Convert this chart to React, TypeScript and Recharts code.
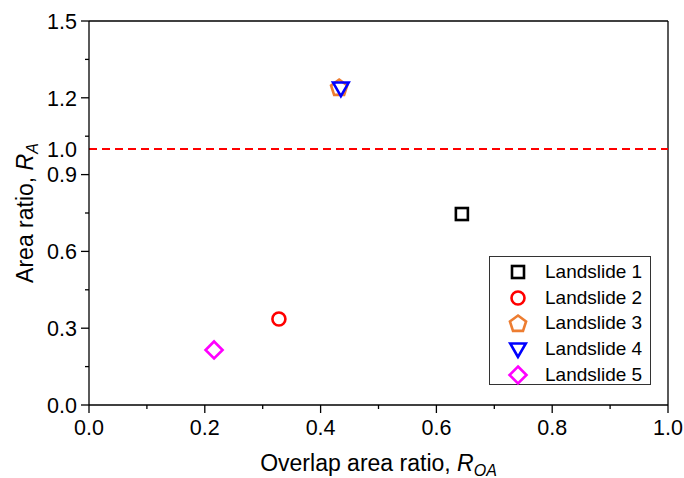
import React from 'react';
import { ScatterChart, Scatter, XAxis, YAxis, ReferenceLine, Legend } from 'recharts';

const seriesNames = ['Landslide 1', 'Landslide 2', 'Landslide 3', 'Landslide 4', 'Landslide 5'];
const roaValues = [0.644, 0.328, 0.432, 0.435, 0.216];
const raValues = [0.746, 0.336, 1.242, 1.238, 0.215];
const colors = ['#000000', '#ff0000', '#ED7D31', '#0000ff', '#ff00ff'];
const shapes = ['square', 'circle', 'pentagon', 'triangle', 'diamond'];

const xTicks = [0, 0.1, 0.2, 0.3, 0.4, 0.5, 0.6, 0.7, 0.8, 0.9, 1.0];
const xLabeled = [0, 0.2, 0.4, 0.6, 0.8, 1.0];
const yTicks = [0, 0.15, 0.3, 0.45, 0.6, 0.75, 0.9, 1.0, 1.05, 1.2, 1.35, 1.5];
const yMajor = [0, 0.3, 0.6, 0.9, 1.2, 1.5];
const yLabeled = [0, 0.3, 0.6, 0.9, 1.0, 1.2, 1.5];
const threshold = 1.0;

const FONT = '"Liberation Sans", Arial, sans-serif';
const TICK_FS = 21.5;
const TITLE_FS = 23;

function Marker({ cx, cy, shape, color }: { cx: number; cy: number; shape: string; color: string }) {
  const sw = 2.6;
  if (shape === 'square') {
    return <rect x={cx - 6} y={cy - 6} width={12} height={12} fill="none" stroke={color} strokeWidth={sw} />;
  }
  if (shape === 'circle') {
    return <circle cx={cx} cy={cy} r={6.5} fill="none" stroke={color} strokeWidth={sw} />;
  }
  if (shape === 'pentagon') {
    const r = 8.5;
    const pts = [0, 1, 2, 3, 4]
      .map((i) => {
        const a = -Math.PI / 2 + (i * 2 * Math.PI) / 5;
        return `${cx + r * Math.cos(a)},${cy + 1 + r * Math.sin(a)}`;
      })
      .join(' ');
    return <polygon points={pts} fill="none" stroke={color} strokeWidth={sw} strokeLinejoin="miter" />;
  }
  if (shape === 'triangle') {
    const r = 9;
    const pts = [Math.PI / 2, Math.PI / 2 + (2 * Math.PI) / 3, Math.PI / 2 + (4 * Math.PI) / 3]
      .map((a) => `${cx + r * Math.cos(a)},${cy - 1 + r * Math.sin(a)}`)
      .join(' ');
    return <polygon points={pts} fill="none" stroke={color} strokeWidth={sw} />;
  }
  const d = 8.5;
  return (
    <polygon
      points={`${cx},${cy - d} ${cx + d},${cy} ${cx},${cy + d} ${cx - d},${cy}`}
      fill="none"
      stroke={color}
      strokeWidth={sw}
    />
  );
}

const YTick = (props: any) => {
  const { x, y, payload } = props;
  const v = payload.value;
  const isMajor = yMajor.some((m) => Math.abs(m - v) < 1e-9);
  const isLabeled = yLabeled.some((m) => Math.abs(m - v) < 1e-9);
  const len = Math.abs(v - threshold) < 1e-9 ? 0 : isMajor ? 8 : 4;
  return (
    <g>
      {len > 0 && <line x1={x} x2={x - len} y1={y} y2={y} stroke="#000" strokeWidth={1.3} />}
      {isLabeled && (
        <text x={x - 12} y={y} dy="0.36em" textAnchor="end" fontSize={TICK_FS} fontFamily={FONT} fill="#000">
          {Number(v).toFixed(1)}
        </text>
      )}
    </g>
  );
};

const XTick = (props: any) => {
  const { x, y, payload } = props;
  const v = payload.value;
  const isLabeled = xLabeled.some((m) => Math.abs(m - v) < 1e-9);
  const len = isLabeled ? 8 : 4;
  return (
    <g>
      <line x1={x} x2={x} y1={y} y2={y + len} stroke="#000" strokeWidth={1.3} />
      {isLabeled && (
        <text x={x} y={y + 30} textAnchor="middle" fontSize={TICK_FS} fontFamily={FONT} fill="#000">
          {Number(v).toFixed(1)}
        </text>
      )}
    </g>
  );
};

const YTitle = (props: any) => {
  const vb = props.viewBox || {};
  const cx = (vb.x ?? 0) + 33;
  const cy = (vb.y ?? 0) + (vb.height ?? 0) / 2;
  return (
    <text
      x={cx}
      y={cy}
      transform={`rotate(-90, ${cx}, ${cy})`}
      textAnchor="middle"
      fontSize={TITLE_FS}
      fontFamily={FONT}
      fill="#000"
    >
      <tspan>Area ratio, </tspan>
      <tspan fontStyle="italic">R</tspan>
      <tspan fontStyle="italic" fontSize={16} dy={5}>
        A
      </tspan>
    </text>
  );
};

const XTitle = (props: any) => {
  const vb = props.viewBox || {};
  const cx = (vb.x ?? 0) + (vb.width ?? 0) / 2;
  const cy = (vb.y ?? 0) + 66;
  return (
    <text x={cx} y={cy} textAnchor="middle" fontSize={TITLE_FS} fontFamily={FONT} fill="#000">
      <tspan>Overlap area ratio, </tspan>
      <tspan fontStyle="italic">R</tspan>
      <tspan fontStyle="italic" fontSize={16} dy={5}>
        OA
      </tspan>
    </text>
  );
};

const LegendBox = () => (
  <div
    style={{
      width: 162,
      height: 129,
      border: '1px solid #333',
      background: '#fff',
      boxSizing: 'border-box',
      paddingTop: 2,
      fontFamily: FONT,
    }}
  >
    {seriesNames.map((name, i) => (
      <div key={name} style={{ display: 'flex', alignItems: 'center', height: 25.7 }}>
        <svg width={22} height={22} style={{ marginLeft: 17 }}>
          <Marker cx={11} cy={11} shape={shapes[i]} color={colors[i]} />
        </svg>
        <span style={{ marginLeft: 16, fontSize: 19, color: '#000', lineHeight: '20px' }}>{name}</span>
      </div>
    ))}
  </div>
);

export default function App() {
  return (
    <div style={{ position: 'absolute', left: 0, top: 0, width: 684, height: 478, background: '#fff' }}>
      <ScatterChart width={684} height={478} margin={{ top: 21, right: 16, bottom: 0, left: 0 }}>
        <XAxis
          type="number"
          dataKey="x"
          domain={[0, 1]}
          ticks={xTicks}
          interval={0}
          tickSize={0}
          tickMargin={0}
          tick={<XTick />}
          height={73}
          axisLine={{ stroke: '#000', strokeWidth: 1.3 }}
          label={<XTitle />}
        />
        <YAxis
          type="number"
          dataKey="y"
          domain={[0, 1.5]}
          ticks={yTicks}
          interval={0}
          tickSize={0}
          tickMargin={0}
          tick={<YTick />}
          width={89}
          axisLine={{ stroke: '#000', strokeWidth: 1.3 }}
          label={<YTitle />}
        />
        <ReferenceLine y={1.5} stroke="#000" strokeWidth={1.3} />
        <ReferenceLine x={1.0} stroke="#000" strokeWidth={1.3} />
        <ReferenceLine y={threshold} stroke="#ff0000" strokeWidth={2} strokeDasharray="8 5" />
        {seriesNames.map((name, i) => (
          <Scatter
            key={name}
            name={name}
            data={[{ x: roaValues[i], y: raValues[i] }]}
            isAnimationActive={false}
            shape={(p: any) => <Marker cx={p.cx} cy={p.cy} shape={shapes[i]} color={colors[i]} />}
          />
        ))}
        <Legend
          layout="vertical"
          align="center"
          verticalAlign="middle"
          content={<LegendBox />}
          wrapperStyle={{ position: 'absolute', left: 489, top: 256, width: 162, height: 129 }}
        />
      </ScatterChart>
    </div>
  );
}
